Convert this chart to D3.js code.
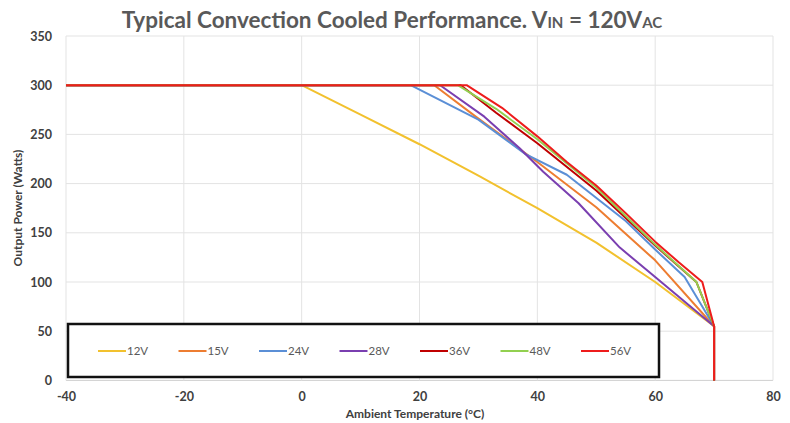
<!DOCTYPE html>
<html>
<head>
<meta charset="utf-8">
<script src="https://cdn.jsdelivr.net/npm/d3@7"></script>
<style>
  body { margin: 0; background: #fff; }
  svg { display: block; font-family: Lato, "Open Sans", sans-serif; }
</style>
</head>
<body>
<svg id="chart" width="790" height="423"></svg>
<script>
// series labels and colours (Excel defaults)
const seriesNames = ["12V", "15V", "24V", "28V", "36V", "48V", "56V"];
const seriesColors = ["#f2c12e", "#ed7d31", "#5b8fd6", "#7a3fb0", "#c00000", "#92d050", "#ee1c1c"];

// ambient temperature (°C) / output power (W)
const temp12V  = [-40, 0, 10, 20, 30, 40, 50, 60, 70, 70];
const power12V = [300, 300, 270, 240, 208, 175, 140, 100, 55, 0];
const temp15V  = [-40, 22.5, 30, 40, 50, 60, 70, 70];
const power15V = [300, 300, 266, 222, 176, 122, 55, 0];
const temp24V  = [-40, 18.5, 30, 38, 45, 55, 60, 65, 70, 70];
const power24V = [300, 300, 265, 230, 209, 162, 133, 105, 55, 0];
const temp28V  = [-40, 23.5, 31, 37, 41, 47, 54, 60, 70, 70];
const power28V = [300, 300, 268, 236, 212, 180, 135, 105, 55, 0];
const temp36V  = [-40, 27, 33, 40, 50, 60, 67, 70, 70];
const power36V = [300, 300, 272, 241, 193, 137, 100, 55, 0];
const temp48V  = [-40, 26.5, 33, 40, 50, 55, 60, 67, 70, 70];
const power48V = [300, 300, 276, 245, 196, 167, 138, 100, 55, 0];
const temp56V  = [-40, 28, 34, 40, 45, 50, 55, 60, 64, 68, 70, 70];
const power56V = [300, 300, 277, 248, 222, 198, 170, 141, 120, 100, 55, 0];

const xTicks = [-40, -20, 0, 20, 40, 60, 80];
const yTicks = [0, 50, 100, 150, 200, 250, 300, 350];

const temps = [temp12V, temp15V, temp24V, temp28V, temp36V, temp48V, temp56V];
const powers = [power12V, power15V, power24V, power28V, power36V, power48V, power56V];

const svg = d3.select("#chart");

const x = d3.scaleLinear().domain([-40, 80]).range([66, 773]);
const y = d3.scaleLinear().domain([0, 350]).range([380.4, 36]);

// gridlines
svg.append("g").selectAll("line").data(yTicks).enter().append("line")
    .attr("x1", x(-40)).attr("x2", x(80))
    .attr("y1", d => y(d)).attr("y2", d => y(d))
    .attr("stroke", d => d === 0 ? "#cfcfcf" : "#e3e3e3").attr("stroke-width", 1);
svg.append("g").selectAll("line").data(xTicks).enter().append("line")
    .attr("x1", d => x(d)).attr("x2", d => x(d))
    .attr("y1", y(0)).attr("y2", y(350))
    .attr("stroke", "#e3e3e3").attr("stroke-width", 1);

// axis labels (no domain lines, Excel style)
const xAxis = svg.append("g")
    .attr("transform", "translate(0," + y(0) + ")")
    .call(d3.axisBottom(x).tickValues(xTicks).tickSize(0).tickPadding(12).tickFormat(d => d));
const yAxis = svg.append("g")
    .attr("transform", "translate(" + x(-40) + ",0)")
    .call(d3.axisLeft(y).tickValues(yTicks).tickSize(0).tickPadding(14));
[xAxis, yAxis].forEach(a => {
  a.select(".domain").remove();
  a.selectAll("text")
    .attr("font-family", "Lato, sans-serif")
    .attr("font-size", 12.5).attr("font-weight", "bold").attr("fill", "#404040");
});

// lines
const line = d3.line().x(d => x(d[0])).y(d => y(d[1]));
svg.append("g").selectAll("path")
    .data(temps.map((t, i) => d3.zip(t, powers[i])))
    .enter().append("path")
    .attr("d", line)
    .attr("fill", "none")
    .attr("stroke", (d, i) => seriesColors[i])
    .attr("stroke-width", 2)
    .attr("stroke-linejoin", "round");

// legend box
const legend = svg.append("g");
legend.append("rect")
    .attr("x", 68).attr("y", 324).attr("width", 591).attr("height", 53)
    .attr("fill", "#fff").attr("stroke", "#111").attr("stroke-width", 2.5);
const item = legend.selectAll("g.item").data(seriesNames).enter().append("g")
    .attr("class", "item")
    .attr("transform", (d, i) => "translate(" + (98 + i * 80.5) + ",351)");
item.append("line")
    .attr("x1", 0).attr("x2", 28)
    .attr("stroke", (d, i) => seriesColors[i]).attr("stroke-width", 2);
item.append("text")
    .attr("x", 29).attr("dy", "0.35em")
    .attr("font-size", 11.5).attr("fill", "#595959")
    .text(d => d);

// title
const title = svg.append("text")
    .attr("x", 392).attr("y", 28)
    .attr("text-anchor", "middle")
    .attr("font-size", 22.5).attr("font-weight", "bold").attr("fill", "#595959");
title.append("tspan").text("Typical Convection Cooled Performance. V");
title.append("tspan").attr("font-size", 15).text("IN");
title.append("tspan").text(" = 120V");
title.append("tspan").attr("font-size", 15).text("AC");

// axis titles
svg.append("text")
    .attr("x", 415).attr("y", 418)
    .attr("text-anchor", "middle")
    .attr("font-size", 12).attr("font-weight", "bold").attr("fill", "#404040")
    .text("Ambient Temperature (°C)");
svg.append("text")
    .attr("transform", "translate(22,208) rotate(-90)")
    .attr("text-anchor", "middle")
    .attr("font-size", 12).attr("font-weight", "bold").attr("fill", "#404040")
    .text("Output Power (Watts)");
</script>
</body>
</html>
